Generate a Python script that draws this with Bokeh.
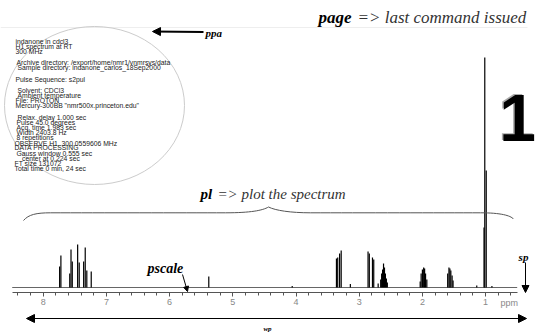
from bokeh.plotting import figure
from bokeh.models import Range1d, FixedTicker, Arrow, NormalHead
from bokeh.core.properties import value
from bokeh.embed import file_html
from bokeh.resources import INLINE

# ---------------- data ----------------
peak_ppm = [7.74, 7.72, 7.58, 7.56, 7.54, 7.455, 7.43, 7.36, 7.335, 7.31, 7.24,
            5.38, 4.06,
            3.36, 3.34, 3.31, 3.285, 3.14,
            2.86, 2.84, 2.79, 2.77, 2.70,
            2.66, 2.645, 2.63, 2.615, 2.60, 2.585, 2.57, 2.555,
            2.035, 2.02, 2.00, 1.98, 1.965, 1.95, 1.93,
            1.60, 1.58, 1.565, 1.55, 1.53, 1.515,
            1.14, 1.025, 1.013, 0.99, 0.90]
peak_height = [21, 32, 14, 38, 26, 43, 25, 26, 40, 17, 16,
               11, 1.5,
               29, 30, 34, 37, 3.5,
               36, 34, 30, 28, 4,
               8, 14, 18, 24, 20, 14, 9, 5,
               6, 14, 18, 20, 19, 14, 8,
               14, 20, 19, 17, 12, 7,
               2, 60, 230, 117, 1.5]
major_ticks = [1, 2, 3, 4, 5, 6, 7, 8]
minor_ticks = [0.6, 0.8, 1.2, 1.4, 1.6, 1.8, 2.2, 2.4, 2.6, 2.8, 3.2, 3.4, 3.6, 3.8,
               4.2, 4.4, 4.6, 4.8, 5.2, 5.4, 5.6, 5.8, 6.2, 6.4, 6.6, 6.8,
               7.2, 7.4, 7.6, 7.8, 8.2, 8.4]
spec_start, spec_end = 8.49, 0.5

info_lines = [
    ("indanone in cdcl3", 15, 40.7),
    ("H1 spectrum at RT", 15, 45.8),
    ("300 MHz", 15, 50.9),
    ("Archive directory: /export/home/nmr1/vnmrsys/data", 16, 62),
    ("Sample directory: indanone_carlos_18Sep2000", 17, 67),
    ("Pulse Sequence: s2pul", 15, 79),
    ("Solvent: CDCl3", 17, 90),
    ("Ambient temperature", 17, 95),
    ("File: PROTON", 15, 100),
    ("Mercury-300BB  \"nmr500x.princeton.edu\"", 15, 104.5),
    ("Relax. delay 1.000 sec", 17, 116.7),
    ("Pulse 45.0 degrees", 16, 121.7),
    ("Acq. time 1.983 sec", 16, 126.7),
    ("Width 2403.8 Hz", 16, 132),
    ("8 repetitions", 16, 137.3),
    ("OBSERVE  H1, 300.0559606 MHz", 14, 142.5),
    ("DATA PROCESSING", 14, 147.3),
    ("Gauss window 0.555 sec", 16, 152.7),
    ("center at 0.224 sec", 21.5, 157.7),
    ("FT size 131072", 14, 162.7),
    ("Total time 0 min, 24 sec", 14, 167.7),
]

# ---------------- layout helpers (page px -> data) ----------------
W, H = 536, 335
def px(X):
    return 8 - (X - 42.7) / 63.2
def py(Y):
    return 287 - Y

p = figure(width=W, height=H, output_backend="svg", toolbar_location=None,
           x_range=Range1d(px(0), px(W)), y_range=Range1d(py(H), py(0)),
           y_axis_location=None, min_border=0, outline_line_color=None)
p.grid.visible = False
p.background_fill_color = "white"
p.border_fill_color = "white"

ax = p.xaxis[0]
ax.fixed_location = py(292)
ax.bounds = (spec_end, spec_start)
ax.ticker = FixedTicker(ticks=major_ticks, minor_ticks=minor_ticks)
ax.axis_line_color = "#555555"
ax.major_tick_line_color = "#555555"
ax.minor_tick_line_color = "#555555"
ax.major_tick_in = 0
ax.major_tick_out = 4
ax.minor_tick_in = 0
ax.minor_tick_out = 3
ax.major_label_standoff = 2
ax.major_label_text_font = "Liberation Sans"
ax.major_label_text_font_size = "9px"
ax.major_label_text_color = "#888888"

# faint page rule
p.segment(x0=[px(0)], y0=[py(27)], x1=[px(527)], y1=[py(27)], line_color="#eeeeee", line_width=1)

# spectrum
p.segment(x0=[spec_start], y0=[0], x1=[spec_end], y1=[0], line_color="#666666", line_width=1)
p.segment(x0=peak_ppm, y0=[0] * len(peak_ppm), x1=peak_ppm, y1=peak_height,
          line_color="black", line_width=1.2)

# info ellipse
p.ellipse(x=[px(94)], y=[py(105)], width=[180 / 63.2], height=[158], fill_color=None,
          line_color="#cccccc", line_width=1)
p.text(x=[px(l[1]) for l in info_lines], y=[py(l[2]) for l in info_lines],
       text=[l[0] for l in info_lines], text_font=value("Liberation Sans"),
       text_font_size="6.8px", text_color="#222222", text_baseline="middle", text_align="left")

serif = value("Liberation Serif")
def t(txt, X, Y, size, style="italic", color="black", align="left"):
    p.text(x=[px(X)], y=[py(Y)], text=[txt], text_font=serif, text_font_style=style,
           text_font_size=size, text_color=color, text_baseline="middle", text_align=align)

t("page", 318, 16.5, "17px", "bold italic")
t("=> last command issued", 357, 16.5, "17px", "italic", "#333333")
t("ppa", 205, 32, "11px", "bold italic")
t("pl", 200, 193.3, "15px", "bold italic")
t("=> plot the spectrum", 217, 193.3, "15px", "italic", "#333333")
t("pscale", 147, 268, "14px", "bold italic")
t("sp", 523, 256, "11px", "bold italic", align="center")
t("wp", 267, 328.5, "7px", "bold italic", align="center")

p.text(x=[px(500)], y=[py(302)], text=["ppm"], text_font=value("Liberation Sans"),
       text_font_size="9px", text_color="#888888", text_baseline="middle", text_align="left")

# big "1"
p.text(x=[px(534)], y=[py(116)], text=["1"], text_font=value("Liberation Sans"),
       text_font_style="bold", text_font_size="66px", text_color="#aaaaaa",
       text_baseline="middle", text_align="right")
p.text(x=[px(535.5)], y=[py(117)], text=["1"], text_font=value("Liberation Sans"),
       text_font_style="bold", text_font_size="66px", text_color="black",
       text_baseline="middle", text_align="right")

# brace
bc = "#555555"
def bez(a, b, c0, c1):
    p.bezier(x0=[px(a[0])], y0=[py(a[1])], x1=[px(b[0])], y1=[py(b[1])],
             cx0=[px(c0[0])], cy0=[py(c0[1])], cx1=[px(c1[0])], cy1=[py(c1[1])],
             line_color=bc, line_width=1)
bez((23, 220), (50, 212.3), (28, 214), (36, 212.3))
bez((50, 212.3), (225, 212.3), (100, 212.3), (180, 212.3))
bez((225, 212.3), (268, 206.5), (250, 212.3), (262, 210))
bez((268, 206.5), (310, 212.3), (275, 210), (290, 212.3))
bez((310, 212.3), (480, 212.3), (360, 212.3), (440, 212.3))
bez((480, 212.3), (513, 218.5), (500, 212.3), (510, 215))

# arrows
def arrow(a, b, size, width, both=False):
    p.add_layout(Arrow(x_start=px(a[0]), y_start=py(a[1]), x_end=px(b[0]), y_end=py(b[1]),
                       line_color="black", line_width=width,
                       end=NormalHead(size=size, fill_color="black", line_color="black"),
                       start=NormalHead(size=size, fill_color="black", line_color="black") if both else None))
arrow((203, 31.5), (152, 31), 8, 1.8)
arrow((182, 274), (187, 291), 5, 1)
arrow((525, 262), (525, 292), 7, 1)
arrow((26, 318), (526, 318), 8, 1.2, both=True)

open("out.html", "w").write(file_html(p, INLINE))
